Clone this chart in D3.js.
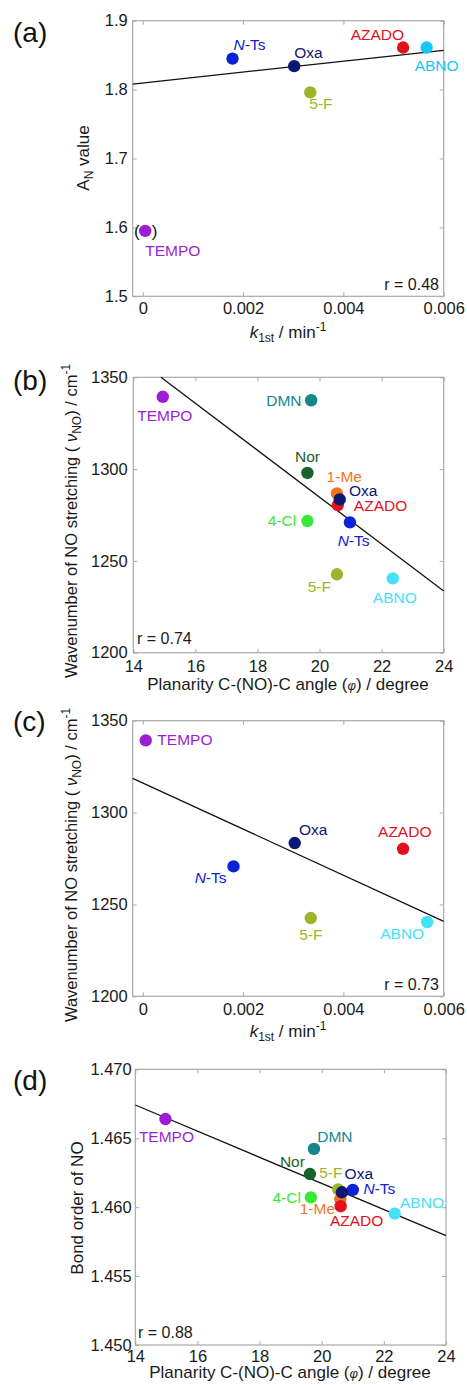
<!DOCTYPE html>
<html><head><meta charset="utf-8">
<script src="https://cdn.jsdelivr.net/npm/d3@7"></script>
<style>
html,body{margin:0;padding:0;background:#fff;}
svg{display:block;font-family:"Liberation Sans",Arial,sans-serif;}
</style></head>
<body><svg id="c" width="467" height="1385"></svg>
<script>
// ---------- DATA ----------
// Panel (a): A_N value vs k1st
const aNames = ["TEMPO", "N-Ts", "Oxa", "5-F", "AZADO", "ABNO"];
const aK1st  = [0.00005, 0.00179, 0.00302, 0.00334, 0.00519, 0.00566];
const aAN    = [1.595, 1.845, 1.834, 1.796, 1.861, 1.861];
const aFitX  = [-0.0002, 0.006];
const aFitY  = [1.808, 1.857];
const aR     = "r = 0.48";

// Panel (b): NO stretching vs planarity angle
const bNames = ["TEMPO", "DMN", "Nor", "4-Cl", "5-F", "ABNO", "N-Ts", "1-Me", "AZADO", "Oxa"];
const bAngle = [14.95, 19.73, 19.61, 19.61, 20.56, 22.36, 20.98, 20.56, 20.59, 20.65];
const bNu    = [1339.4, 1337.5, 1297.9, 1271.7, 1242.7, 1240.5, 1271.0, 1286.8, 1280.4, 1283.5];
const bFitX  = [14.89, 24];
const bFitY  = [1350, 1233.6];
const bR     = "r = 0.74";

// Panel (c): NO stretching vs k1st
const cNames = ["TEMPO", "N-Ts", "Oxa", "5-F", "AZADO", "ABNO"];
const cK1st  = [0.00006, 0.00181, 0.00303, 0.00335, 0.00519, 0.00567];
const cNu    = [1339.3, 1270.7, 1283.4, 1242.6, 1280.3, 1240.4];
const cFitX  = [-0.0002, 0.006];
const cFitY  = [1318.6, 1240.8];
const cR     = "r = 0.73";

// Panel (d): bond order of NO vs planarity angle
const dNames = ["TEMPO", "DMN", "Nor", "4-Cl", "ABNO", "N-Ts", "5-F", "1-Me", "AZADO", "Oxa"];
const dAngle = [14.97, 19.75, 19.62, 19.65, 22.35, 21.0, 20.53, 20.60, 20.61, 20.65];
const dBond  = [1.46639, 1.46422, 1.46240, 1.46071, 1.45953, 1.46125, 1.46129, 1.46058, 1.46007, 1.46108];
const dFitX  = [14, 24];
const dFitY  = [1.46741, 1.45793];
const dR     = "r = 0.88";

// Tick values
const kTicks     = [0, 0.002, 0.004, 0.006];
const angleTicks = [14, 16, 18, 20, 22, 24];
const anTicks    = [1.5, 1.6, 1.7, 1.8, 1.9];
const nuTicks    = [1200, 1250, 1300, 1350];
const bondTicks  = [1.450, 1.455, 1.460, 1.465, 1.470];

// ---------- STYLE ----------
const colors = {
  "TEMPO": "#9a1fd2", "N-Ts": "#0b22d8", "Oxa": "#0c1772", "5-F": "#9bb62c",
  "AZADO": "#e2121a", "ABNO": "#44e2f8", "DMN": "#14878b", "Nor": "#17612a",
  "1-Me": "#f2731f", "4-Cl": "#38e838"
};
const colorsA = Object.assign({}, colors, {"ABNO": "#16c6f6"});
const FONT = '"Liberation Sans", Arial, sans-serif';

// label offsets [dx, dy, anchor] relative to the point
const offA = {"TEMPO":[0,25,"start"],"N-Ts":[1,-9,"start"],"Oxa":[0,-8,"start"],
  "5-F":[-1,17,"start"],"AZADO":[1,-8,"end"],"ABNO":[10,23,"middle"]};
const offB = {"TEMPO":[2,24,"middle"],"DMN":[-9.6,5.7,"end"],"Nor":[0,-11,"middle"],
  "1-Me":[-10.3,-11.5,"start"],"Oxa":[9.3,-3.2,"start"],"AZADO":[16,6,"start"],
  "4-Cl":[-11.3,5,"end"],"N-Ts":[-12.3,23.7,"start"],"5-F":[-6,17.4,"end"],"ABNO":[2,24.4,"middle"]};
const offC = {"TEMPO":[11.6,4.7,"start"],"Oxa":[4.3,-8,"start"],"AZADO":[1.7,-11.4,"middle"],
  "N-Ts":[-7,17,"end"],"5-F":[0,22,"middle"],"ABNO":[-3,17.3,"end"]};
const offD = {"TEMPO":[1,23.3,"middle"],"DMN":[3.3,-7.3,"start"],"Nor":[-5,-7.3,"end"],
  "5-F":[-19,-11.6,"start"],"Oxa":[2.7,-13,"start"],"N-Ts":[10.6,4.5,"start"],
  "4-Cl":[-10,6,"end"],"1-Me":[-5.3,15,"end"],"AZADO":[-10.7,19.7,"start"],"ABNO":[5.3,-5.4,"start"]};

const svg = d3.select("#c");

function kTitle(t){
  t.append("tspan").attr("font-style","italic").text("k");
  t.append("tspan").attr("font-size","12px").attr("dy","4").text("1st");
  t.append("tspan").attr("dy","-4").text(" / min");
  t.append("tspan").attr("font-size","12px").attr("dy","-7").text("-1");
}
function angleTitle(t){
  t.append("tspan").text("Planarity C-(NO)-C angle (");
  t.append("tspan").attr("font-style","italic").attr("font-size","13px").text("φ");
  t.append("tspan").text(") / degree");
}
function nuTitle(t){
  t.append("tspan").text("Wavenumber of NO stretching ( ");
  t.append("tspan").attr("font-style","italic").text("ν");
  t.append("tspan").attr("font-size","12px").attr("dy","4").text("NO");
  t.append("tspan").attr("dy","-4").text(") / cm");
  t.append("tspan").attr("font-size","12px").attr("dy","-7").text("-1");
}
function anTitle(t){
  t.append("tspan").text("A");
  t.append("tspan").attr("font-size","12px").attr("dy","4").text("N");
  t.append("tspan").attr("dy","-4").text(" value");
}
function bondTitle(t){ t.text("Bond order of NO"); }

function panel(p){
  const g = svg.append("g");
  const x = d3.scaleLinear().domain(p.xDomain).range([p.box.l, p.box.r]);
  const y = d3.scaleLinear().domain(p.yDomain).range([p.box.b, p.box.t]);

  const tickCol = "#a8a8a8";
  const styleAxis = (sel) => {
    sel.select(".domain").remove();
    sel.selectAll("line").attr("stroke", tickCol).attr("stroke-width", 1);
    sel.selectAll("text").attr("fill", "#1a1a1a").style("font-family", FONT).style("font-size", "16.5px");
  };
  g.append("g").attr("transform", `translate(0,${p.box.b})`)
    .call(d3.axisBottom(x).tickValues(p.xTicks).tickSize(-4).tickPadding(p.xPad).tickFormat(p.xFmt)).call(styleAxis);
  g.append("g").attr("transform", `translate(0,${p.box.t})`)
    .call(d3.axisTop(x).tickValues(p.xTicks).tickSize(-4).tickFormat("")).call(styleAxis);
  g.append("g").attr("transform", `translate(${p.box.l},0)`)
    .call(d3.axisLeft(y).tickValues(p.yTicks).tickSize(-4).tickPadding(p.yPad).tickFormat(p.yFmt)).call(styleAxis);
  g.append("g").attr("transform", `translate(${p.box.r},0)`)
    .call(d3.axisRight(y).tickValues(p.yTicks).tickSize(-4).tickFormat("")).call(styleAxis);

  g.append("rect").attr("x", p.box.l).attr("y", p.box.t)
    .attr("width", p.box.r - p.box.l).attr("height", p.box.b - p.box.t)
    .attr("fill", "none").attr("stroke", tickCol).attr("stroke-width", 1.2);

  g.append("line")
    .attr("x1", x(p.fitX[0])).attr("y1", y(p.fitY[0]))
    .attr("x2", x(p.fitX[1])).attr("y2", y(p.fitY[1]))
    .attr("stroke", "#111").attr("stroke-width", 1.3);

  const data = p.names.map((n, i) => ({n, x: p.xs[i], y: p.ys[i]}));
  g.selectAll("circle.pt").data(data).enter().append("circle")
    .attr("cx", d => x(d.x)).attr("cy", d => y(d.y)).attr("r", 6.2)
    .attr("fill", d => p.colors[d.n]);

  data.forEach(d => {
    const o = p.off[d.n];
    const t = g.append("text").attr("x", x(d.x) + o[0]).attr("y", y(d.y) + o[1])
      .attr("text-anchor", o[2]).attr("fill", p.colors[d.n])
      .style("font-size", "15.5px");
    if (d.n === "N-Ts") {
      t.append("tspan").attr("font-style", "italic").text("N");
      t.append("tspan").text("-Ts");
    } else t.text(d.n);
  });

  g.append("text").attr("x", p.rPos[0]).attr("y", p.rPos[1]).attr("text-anchor", p.rPos[2])
    .attr("fill", "#1a1a1a").style("font-size", "16px").text(p.r);

  g.append("text").attr("x", p.letterPos[0]).attr("y", p.letterPos[1])
    .attr("fill", "#111").style("font-size", "28px").text(p.letter);

  const xt = g.append("text").attr("x", p.xTitlePos[0]).attr("y", p.xTitlePos[1])
    .attr("text-anchor", "middle").attr("fill", "#1a1a1a").style("font-size", "17px");
  p.xTitle(xt);
  const yt = g.append("text").attr("transform", `translate(${p.yTitlePos[0]},${p.yTitlePos[1]}) rotate(-90)`)
    .attr("text-anchor", "middle").attr("fill", "#1a1a1a").style("font-size", p.yTitleSize);
  p.yTitle(yt);
  return {x, y, g};
}

const kFmt = v => v === 0 ? "0" : d3.format(".3f")(v);

const pa = panel({
  box: {l: 132.7, r: 443.7, t: 20.7, b: 296.3},
  xDomain: [-0.0002, 0.006], yDomain: [1.5, 1.9],
  xTicks: kTicks, yTicks: anTicks, xFmt: kFmt, yFmt: d3.format(".1f"),
  xPad: 6.3, yPad: 5,
  names: aNames, xs: aK1st, ys: aAN, fitX: aFitX, fitY: aFitY,
  colors: colorsA, off: offA, r: aR, rPos: [439, 290, "end"],
  letter: "(a)", letterPos: [13, 41.5],
  xTitle: kTitle, xTitlePos: [288, 337.5],
  yTitle: anTitle, yTitlePos: [89, 158], yTitleSize: "17px"
});
{
  const i = aNames.indexOf("TEMPO");
  const cx = pa.x(aK1st[i]), cy = pa.y(aAN[i]);
  pa.g.append("text").attr("x", cx - 5.5).attr("y", cy + 6).attr("text-anchor", "end")
    .attr("fill", "#111").style("font-size", "17px").text("(");
  pa.g.append("text").attr("x", cx + 6.5).attr("y", cy + 6).attr("text-anchor", "start")
    .attr("fill", "#111").style("font-size", "17px").text(")");
}

panel({
  box: {l: 133.3, r: 443.7, t: 377.3, b: 652.7},
  xDomain: [14, 24], yDomain: [1200, 1350],
  xTicks: angleTicks, yTicks: nuTicks, xFmt: d3.format("d"), yFmt: d3.format("d"),
  xPad: 7.3, yPad: 5.6,
  names: bNames, xs: bAngle, ys: bNu, fitX: bFitX, fitY: bFitY,
  colors: colors, off: offB, r: bR, rPos: [137, 644, "start"],
  letter: "(b)", letterPos: [13, 390],
  xTitle: angleTitle, xTitlePos: [288, 690],
  yTitle: nuTitle, yTitlePos: [77.3, 521], yTitleSize: "16.5px"
});

panel({
  box: {l: 132.7, r: 443.7, t: 720.7, b: 996.3},
  xDomain: [-0.0002, 0.006], yDomain: [1200, 1350],
  xTicks: kTicks, yTicks: nuTicks, xFmt: kFmt, yFmt: d3.format("d"),
  xPad: 7, yPad: 5,
  names: cNames, xs: cK1st, ys: cNu, fitX: cFitX, fitY: cFitY,
  colors: colors, off: offC, r: cR, rPos: [439, 990, "end"],
  letter: "(c)", letterPos: [13, 731],
  xTitle: kTitle, xTitlePos: [288, 1037],
  yTitle: nuTitle, yTitlePos: [77, 865], yTitleSize: "16.5px"
});

panel({
  box: {l: 135.3, r: 446, t: 1069.3, b: 1345},
  xDomain: [14, 24], yDomain: [1.450, 1.470],
  xTicks: angleTicks, yTicks: bondTicks, xFmt: d3.format("d"), yFmt: d3.format(".3f"),
  xPad: 5.3, yPad: 3.6,
  names: dNames, xs: dAngle, ys: dBond, fitX: dFitX, fitY: dFitY,
  colors: colors, off: offD, r: dR, rPos: [138, 1338, "start"],
  letter: "(d)", letterPos: [13, 1090],
  xTitle: angleTitle, xTitlePos: [290, 1378],
  yTitle: bondTitle, yTitlePos: [82.5, 1208], yTitleSize: "17px"
});
</script></body></html>
